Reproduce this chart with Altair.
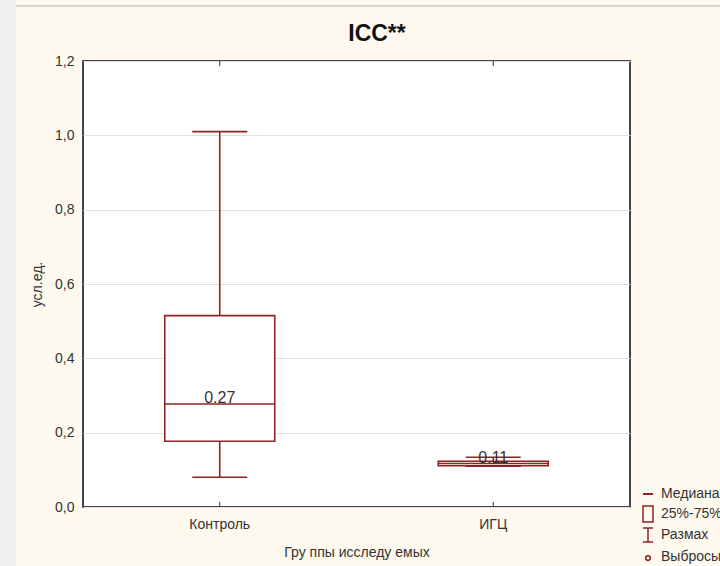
import altair as alt
import pandas as pd

# ---- data ----
groups = ["Контроль", "ИГЦ"]
mins = [0.08, 0.11]
q1s = [0.177, 0.111]
medians = [0.277, 0.117]
q3s = [0.515, 0.123]
maxs = [1.01, 0.134]
median_labels = ["0.27", "0.11"]
y_ticks = [0.0, 0.2, 0.4, 0.6, 0.8, 1.0, 1.2]
legend_labels = ["Медиана", "25%-75%", "Размах", "Выбросы"]
title_text = "ICC**"

df = pd.DataFrame({
    "group": groups, "lo": mins, "q1": q1s, "med": medians,
    "q3": q3s, "hi": maxs, "label": median_labels,
})
one = pd.DataFrame({"k": [0]})

W, H = 547, 446
RED = "#8E2323"
TXT = "#333333"
FONT = "Liberation Sans"

x_enc = alt.X(
    "group:N", sort=groups,
    scale=alt.Scale(paddingInner=0, paddingOuter=0),
    axis=alt.Axis(title="Гру ппы исследу емых", labelAngle=0, ticks=False,
                  domain=False, labelFontSize=14, titleFontSize=14,
                  labelPadding=10, titlePadding=14, labelColor=TXT,
                  titleColor=TXT, titleFontWeight="normal"),
)
y_scale = alt.Scale(domain=[0, 1.2], nice=False, zero=False)
y_axis = alt.Axis(title="усл.ед.", values=y_ticks,
                  labelExpr="replace(format(datum.value, '.1f'), '.', ',')",
                  grid=True, gridColor="#E0E0E0", domain=False, ticks=False,
                  labelFontSize=14, titleFontSize=14, labelPadding=9,
                  titlePadding=10, labelColor=TXT, titleColor=TXT,
                  titleFontWeight="normal")

base = alt.Chart(df)

whisk_lo = base.mark_rule(color=RED, strokeWidth=1.6).encode(
    x=x_enc, y=alt.Y("lo:Q", scale=y_scale, axis=y_axis), y2="q1:Q")
whisk_hi = base.mark_rule(color=RED, strokeWidth=1.6).encode(
    x=x_enc, y=alt.Y("q3:Q", scale=y_scale), y2="hi:Q")
cap_hi = base.mark_tick(color=RED, size=55, thickness=1.6, opacity=1).encode(
    x=x_enc, y=alt.Y("hi:Q", scale=y_scale))
cap_lo = base.mark_tick(color=RED, size=55, thickness=1.6, opacity=1).encode(
    x=x_enc, y=alt.Y("lo:Q", scale=y_scale))
box = base.mark_bar(size=110, fill="white", stroke=RED, strokeWidth=1.6).encode(
    x=x_enc, y=alt.Y("q1:Q", scale=y_scale), y2="q3:Q")
med = base.mark_tick(color=RED, size=110, thickness=1.6, opacity=1).encode(
    x=x_enc, y=alt.Y("med:Q", scale=y_scale))
lab = base.mark_text(fontSize=16, baseline="alphabetic", dy=-1, color=TXT,
                     font=FONT).encode(
    x=x_enc, y=alt.Y("med:Q", scale=y_scale), text="label:N")
tick_top = base.mark_rule(color="#333", strokeWidth=1).encode(
    x=x_enc, y=alt.value(0), y2=alt.value(5))
tick_bot = base.mark_rule(color="#333", strokeWidth=1).encode(
    x=x_enc, y=alt.value(H - 5), y2=alt.value(H))

# ---- page decoration (gray strip, top line) ----
strip = alt.Chart(one).mark_rect(color="#EFEFEF").encode(
    x=alt.value(-83), x2=alt.value(-67), y=alt.value(-61), y2=alt.value(H + 59))
topline = alt.Chart(one).mark_rule(color="#C8C8C8", strokeWidth=1.5).encode(
    x=alt.value(-67), x2=alt.value(W + 90), y=alt.value(-55))

# ---- title ----
title = alt.Chart(one).mark_text(text=title_text, fontSize=23, fontWeight="bold",
                                 color="#111111", font=FONT, align="center",
                                 baseline="alphabetic").encode(
    x=alt.value(294), y=alt.value(-20))

# ---- legend (drawn at the lower right, outside the plot) ----
LX = W + 13
leg_med = alt.Chart(one).mark_rule(color=RED, strokeWidth=2).encode(
    x=alt.value(LX), x2=alt.value(LX + 10), y=alt.value(H - 13))
leg_box = alt.Chart(one).mark_rect(fill="none", stroke=RED, strokeWidth=1.5).encode(
    x=alt.value(LX), x2=alt.value(LX + 10), y=alt.value(H - 1), y2=alt.value(H + 15))
leg_rng_v = alt.Chart(one).mark_rule(color=RED, strokeWidth=1.5).encode(
    x=alt.value(LX + 5), y=alt.value(H + 21), y2=alt.value(H + 35))
leg_rng_t = alt.Chart(one).mark_rule(color=RED, strokeWidth=1.5).encode(
    x=alt.value(LX), x2=alt.value(LX + 10), y=alt.value(H + 21))
leg_rng_b = alt.Chart(one).mark_rule(color=RED, strokeWidth=1.5).encode(
    x=alt.value(LX), x2=alt.value(LX + 10), y=alt.value(H + 35))
leg_out = alt.Chart(one).mark_point(color=RED, size=22, strokeWidth=1.5, filled=False,
                                    shape="circle", opacity=1).encode(
    x=alt.value(LX + 5), y=alt.value(H + 51))
leg_texts = []
for lbl, yy in zip(legend_labels, [H - 13, H + 7, H + 28, H + 50]):
    leg_texts.append(
        alt.Chart(one).mark_text(text=lbl, align="left", baseline="middle",
                                 fontSize=14, color=TXT, font=FONT).encode(
            x=alt.value(LX + 18), y=alt.value(yy)))

chart = alt.layer(
    strip, topline, title,
    whisk_lo, whisk_hi, cap_hi, cap_lo, box, med, lab, tick_top, tick_bot,
    leg_med, leg_box, leg_rng_v, leg_rng_t, leg_rng_b, leg_out, *leg_texts,
).properties(
    width=W, height=H,
    autosize=alt.AutoSizeParams(type="none"),
    padding={"left": 83, "top": 61, "right": 90, "bottom": 59},
).configure(
    background="#FEF9EE", font=FONT,
).configure_view(
    stroke="#444444", strokeWidth=2, fill="white",
)

chart.save("out.html", embed_options={"renderer": "svg", "actions": False})
